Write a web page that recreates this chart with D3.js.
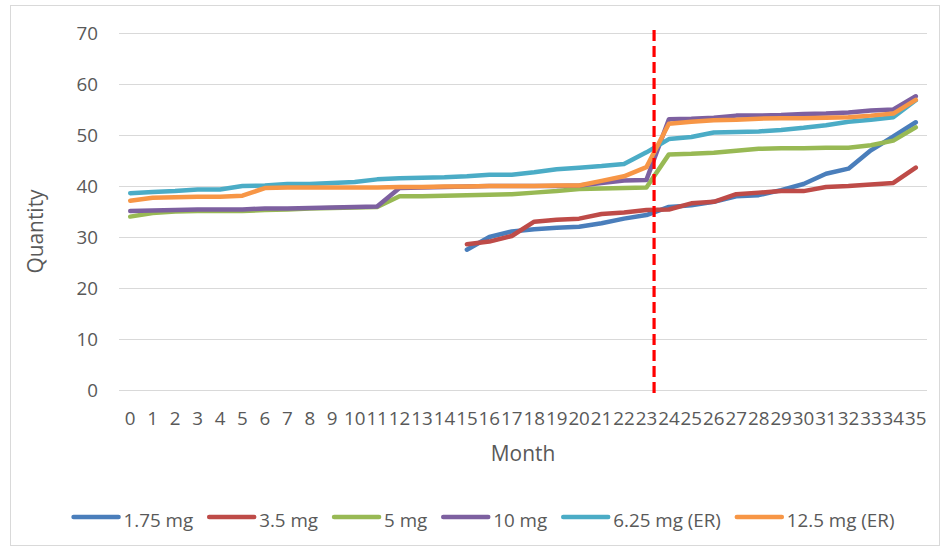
<!DOCTYPE html>
<html><head><meta charset="utf-8">
<script src="https://cdn.jsdelivr.net/npm/d3@7"></script>
<style>
html,body{margin:0;padding:0;background:#fff;}
text{font-family:"Open Sans",sans-serif;fill:#595959;}
</style></head>
<body>
<svg id="chart" width="942" height="548"></svg>
<script>
const months = d3.range(0, 36).map(String);
const yTicks = [0, 10, 20, 30, 40, 50, 60, 70];
const seriesNames = ["1.75 mg", "3.5 mg", "5 mg", "10 mg", "6.25 mg (ER)", "12.5 mg (ER)"];
const seriesColors = ["#4A7EBB", "#BE4B48", "#98B954", "#7D60A0", "#4BACC6", "#F79646"];
const N = null;
const s175 = [N,N,N,N,N,N,N,N,N,N,N,N,N,N,N,27.5,30.0,31.1,31.5,31.8,32.0,32.7,33.6,34.3,35.9,36.2,36.9,38.0,38.2,39.2,40.4,42.4,43.4,47.0,49.7,52.5];
const s35  = [N,N,N,N,N,N,N,N,N,N,N,N,N,N,N,28.6,29.1,30.2,33.0,33.4,33.6,34.5,34.8,35.3,35.4,36.6,36.9,38.4,38.7,39.0,39.0,39.8,40.0,40.3,40.6,43.6];
const s5   = [34.0,34.7,35.0,35.1,35.1,35.1,35.3,35.4,35.6,35.7,35.8,35.9,38.0,38.0,38.1,38.2,38.3,38.4,38.7,39.0,39.4,39.5,39.6,39.7,46.2,46.3,46.5,46.9,47.3,47.4,47.4,47.5,47.5,48.0,48.9,51.5];
const s10  = [35.1,35.2,35.3,35.4,35.4,35.4,35.6,35.6,35.7,35.8,35.9,36.0,39.6,39.7,39.8,39.9,40.0,40.0,40.0,40.0,40.1,40.6,41.1,41.2,53.1,53.2,53.4,53.8,53.8,53.9,54.1,54.2,54.4,54.8,55.0,57.6];
const s625 = [38.6,38.8,39.0,39.3,39.3,40.0,40.1,40.4,40.4,40.6,40.8,41.3,41.5,41.6,41.7,41.9,42.2,42.2,42.7,43.3,43.6,43.9,44.3,46.6,49.2,49.6,50.5,50.6,50.7,51.0,51.4,51.9,52.6,53.0,53.5,56.8];
const s125 = [37.1,37.7,37.8,37.9,37.9,38.1,39.6,39.7,39.7,39.7,39.7,39.7,39.8,39.8,39.9,39.9,40.0,40.0,40.0,40.1,40.1,41.0,41.9,43.7,52.2,52.6,52.9,53.0,53.2,53.3,53.3,53.4,53.5,53.8,54.2,56.9];
const allSeries = [s175, s35, s5, s10, s625, s125];
const markerMonth = 23.34;
const markerSpan = [70.6, -1.3];

const svg = d3.select("#chart");
const pLeft = 119, pRight = 927, pTop = 33, pBottom = 390;

svg.append("rect").attr("x",10.5).attr("y",5.5).attr("width",929).attr("height",540)
  .attr("fill","#fff").attr("stroke","#d9d9d9").attr("stroke-width",1);

const x = d3.scaleBand().domain(months).range([pLeft, pRight]).padding(0);
const xLin = d3.scaleLinear().domain([-0.5, 35.5]).range([pLeft, pRight]);
const y = d3.scaleLinear().domain([0, 70]).range([pBottom, pTop]);

// gridlines
svg.append("g").selectAll("line").data(yTicks).join("line")
  .attr("x1", pLeft).attr("x2", pRight)
  .attr("y1", d => Math.round(y(d)) + 0.5).attr("y2", d => Math.round(y(d)) + 0.5)
  .attr("stroke", "#d9d9d9").attr("stroke-width", 1);

// y axis labels
const yAxis = d3.axisLeft(y).tickValues(yTicks).tickSize(0).tickPadding(0);
const gy = svg.append("g").attr("transform", `translate(${pLeft - 21},0)`).call(yAxis);
gy.select(".domain").remove();
gy.selectAll("text").attr("font-size", 18.8).attr("dy", "0.36em")
  .style("font-family", '"Open Sans",sans-serif').attr("fill", "#595959");

// x axis labels
const xAxis = d3.axisBottom(x).tickSize(0).tickPadding(0);
const gx = svg.append("g").attr("transform", `translate(0,${pBottom})`).call(xAxis);
gx.select(".domain").remove();
gx.selectAll("text").attr("font-size", 18.8).attr("dy", 0).attr("y", 35)
  .style("font-family", '"Open Sans",sans-serif').attr("fill", "#595959");

// axis titles
svg.append("text").attr("x", (pLeft + pRight) / 2).attr("y", 461).attr("text-anchor", "middle")
  .attr("font-size", 20.9).text("Month");
svg.append("text").attr("transform", `translate(43,${(pTop + pBottom) / 2 + 20}) rotate(-90)`)
  .attr("text-anchor", "middle").attr("font-size", 20.9).text("Quantity");

// series lines
const line = d3.line()
  .defined(d => d.v !== null)
  .x(d => x(d.m) + x.bandwidth() / 2)
  .y(d => y(d.v));
allSeries.forEach((vals, i) => {
  const pts = vals.map((v, j) => ({ m: months[j], v }));
  svg.append("path").datum(pts).attr("d", line)
    .attr("fill", "none").attr("stroke", seriesColors[i])
    .attr("stroke-width", 4.5).attr("stroke-linejoin", "round").attr("stroke-linecap", "round");
});

// marker dashed line
svg.append("line")
  .attr("x1", xLin(markerMonth)).attr("x2", xLin(markerMonth))
  .attr("y1", y(markerSpan[0])).attr("y2", y(markerSpan[1]))
  .attr("stroke", "#FF0000").attr("stroke-width", 3.2).attr("stroke-dasharray", "11,5");

// legend
const lg = svg.append("g");
let cx = 0;
seriesNames.forEach((name, i) => {
  const g = lg.append("g");
  g.append("line").attr("x1", 2).attr("x2", 47).attr("y1", 0).attr("y2", 0)
    .attr("stroke", seriesColors[i]).attr("stroke-width", 4.5).attr("stroke-linecap", "round");
  const t = g.append("text").attr("x", 52).attr("y", 9.5).attr("font-size", 18.8).text(name);
  const w = 52 + t.node().getComputedTextLength();
  g.attr("transform", `translate(${cx},517)`);
  cx += w + 14;
});
const totalW = cx - 14;
lg.attr("transform", `translate(${483 - totalW / 2},0)`);
</script>
</body></html>
